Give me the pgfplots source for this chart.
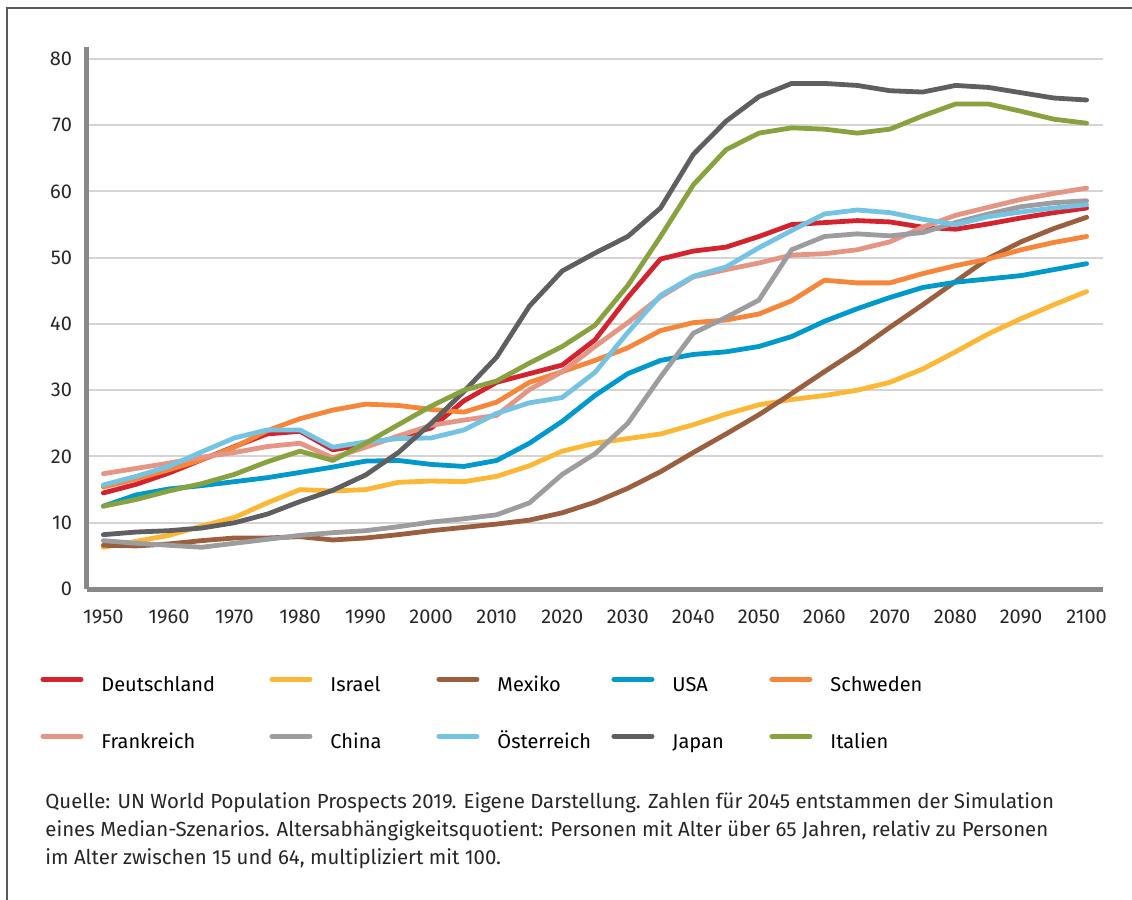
\documentclass[border=0pt]{standalone}
\usepackage{fontspec}
\setmainfont{Fira Sans}
\usepackage{pgfplots}
\pgfplotsset{compat=1.18}
\usepackage{pgfplotstable}

\definecolor{cDE}{HTML}{D2232E}
\definecolor{cIL}{HTML}{FBB735}
\definecolor{cMX}{HTML}{9A5F3F}
\definecolor{cUS}{HTML}{0099CC}
\definecolor{cSE}{HTML}{F5863A}
\definecolor{cFR}{HTML}{E59584}
\definecolor{cCN}{HTML}{9D9D9F}
\definecolor{cAT}{HTML}{74C3E3}
\definecolor{cJP}{HTML}{5F5F61}
\definecolor{cIT}{HTML}{88A240}
\definecolor{axgray}{HTML}{88888B}
\definecolor{gridgray}{HTML}{D4D4D4}

% Altersabhaengigkeitsquotient, 1950--2100 in 5-year steps
\pgfplotstableread{
year DE   IL   MX   US   SE   FR   CN   AT   JP   IT
1950 14.5 6.3  6.6  12.5 15.4 17.4 7.3  15.7 8.2  12.5
1955 15.8 7.2  6.5  14.2 16.6 18.2 6.9  17.0 8.6  13.5
1960 17.5 8.1  6.8  15.1 18.0 19.0 6.6  18.5 8.8  14.8
1965 19.5 9.5  7.3  15.6 19.5 19.9 6.3  20.7 9.2  15.9
1970 21.5 10.8 7.7  16.2 21.4 20.6 6.9  22.8 10.0 17.3
1975 23.4 13.0 7.7  16.8 23.9 21.5 7.5  24.0 11.3 19.2
1980 23.8 15.0 7.9  17.6 25.7 22.0 8.1  24.0 13.2 20.8
1985 21.0 14.8 7.4  18.4 27.0 19.8 8.5  21.4 14.9 19.4
1990 21.8 15.0 7.7  19.3 27.9 21.4 8.8  22.2 17.2 22.0
1995 22.9 16.1 8.2  19.4 27.7 23.1 9.4  22.7 20.6 24.8
2000 24.3 16.3 8.8  18.8 27.1 24.7 10.1 22.8 25.0 27.6
2005 28.4 16.2 9.3  18.5 26.7 25.5 10.6 24.0 29.8 30.0
2010 31.2 17.0 9.8  19.4 28.2 26.2 11.2 26.5 35.0 31.4
2015 32.5 18.6 10.4 22.0 31.2 30.1 13.0 28.1 42.7 34.1
2020 33.8 20.8 11.5 25.3 32.8 32.8 17.3 28.9 48.0 36.6
2025 37.6 22.0 13.1 29.2 34.5 36.6 20.4 32.7 50.7 39.8
2030 44.0 22.7 15.2 32.5 36.4 40.2 25.0 38.7 53.2 45.8
2035 49.8 23.4 17.7 34.5 39.0 44.1 32.0 44.3 57.5 53.2
2040 51.0 24.8 20.6 35.4 40.2 47.1 38.6 47.2 65.6 61.0
2045 51.6 26.4 23.4 35.8 40.6 48.2 41.0 48.6 70.6 66.3
2050 53.2 27.8 26.3 36.6 41.5 49.2 43.6 51.5 74.3 68.8
2055 55.0 28.6 29.5 38.1 43.5 50.4 51.2 54.1 76.3 69.6
2060 55.3 29.2 32.8 40.4 46.6 50.6 53.2 56.6 76.3 69.4
2065 55.6 30.0 36.0 42.3 46.2 51.2 53.6 57.2 76.0 68.8
2070 55.4 31.2 39.5 44.0 46.2 52.4 53.3 56.8 75.2 69.4
2075 54.6 33.2 42.9 45.5 47.6 54.6 53.8 55.8 75.0 71.4
2080 54.3 35.8 46.4 46.3 48.8 56.4 55.3 55.0 76.0 73.2
2085 55.1 38.5 49.9 46.8 49.8 57.6 56.6 56.2 75.7 73.2
2090 56.0 40.8 52.4 47.3 51.2 58.8 57.7 56.9 74.9 72.1
2095 56.8 42.9 54.4 48.2 52.3 59.7 58.3 57.5 74.1 70.9
2100 57.5 44.9 56.1 49.1 53.2 60.5 58.6 58.0 73.8 70.3
}\data

\begin{document}
\begin{tikzpicture}
\useasboundingbox (0pt,0pt) rectangle (566pt,-450pt);
\draw[line width=1pt, black!65] (3.5pt,-451pt) -- (3.5pt,-4pt) -- (567pt,-4pt);
\begin{axis}[
    at={(43.5pt,-294.5pt)}, anchor=south west,
    scale only axis,
    width=508pt, height=271pt,
    xmin=1947.5, xmax=2102.5,
    ymin=0, ymax=81.8,
    xtick={1950,1960,...,2100},
    ytick={0,10,...,80},
    axis x line*=bottom, axis y line*=left,
    axis line style={line width=2.5pt, axgray, -},
    major tick length=0pt,
    ymajorgrids,
    grid style={line width=1pt, gridgray},
    tick label style={font=\fontsize{10}{12}\selectfont, black!85,
        /pgf/number format/assume math mode=true,
        /pgf/number format/1000 sep={}},
    xticklabel style={yshift=-7pt},
    yticklabel style={xshift=-4pt},
    every axis plot/.append style={line width=2.4pt, line cap=round, line join=round, no markers},
    legend columns=5,
    legend cell align=left,
    legend image code/.code={\draw[line width=2.5pt, line cap=round] (0pt,3.3pt) -- (19pt,3.3pt);},
    legend style={at={(-0.0521,-0.153)}, anchor=north west, draw=none, fill=none,
        font=\fontsize{10}{12}\selectfont,
        nodes={inner sep=0pt, text height=7.5pt, text depth=2pt},
        /tikz/every odd column/.style={column sep=9pt},
        row sep=19pt},
]
\addplot[cDE] table[x=year, y=DE] {\data};
\addlegendentry{\makebox[84pt][l]{Deutschland}}
\addplot[cIL] table[x=year, y=IL] {\data};
\addlegendentry{\makebox[53pt][l]{Israel}}
\addplot[cMX] table[x=year, y=MX] {\data};
\addlegendentry{\makebox[57pt][l]{Mexiko}}
\addplot[cUS] table[x=year, y=US] {\data};
\addlegendentry{\makebox[48.5pt][l]{USA}}
\addplot[cSE] table[x=year, y=SE] {\data};
\addlegendentry{\makebox[60pt][l]{Schweden}}
\addplot[cFR] table[x=year, y=FR] {\data};
\addlegendentry{Frankreich}
\addplot[cCN] table[x=year, y=CN] {\data};
\addlegendentry{China}
\addplot[cAT] table[x=year, y=AT] {\data};
\addlegendentry{Österreich}
\addplot[cJP] table[x=year, y=JP] {\data};
\addlegendentry{Japan}
\addplot[cIT] table[x=year, y=IT] {\data};
\addlegendentry{Italien}
\end{axis}
\node[anchor=north west, align=left, inner sep=0pt, black!85,
    font=\fontsize{10.2}{14}\selectfont] at (22.5pt,-396pt)
    {Quelle: UN World Population Prospects 2019. Eigene Darstellung. Zahlen für 2045 entstammen der Simulation\\
     eines Median-Szenarios. Altersabhängigkeitsquotient: Personen mit Alter über 65 Jahren, relativ zu Personen\\
     im Alter zwischen 15 und 64, multipliziert mit 100.};
\end{tikzpicture}
\end{document}
